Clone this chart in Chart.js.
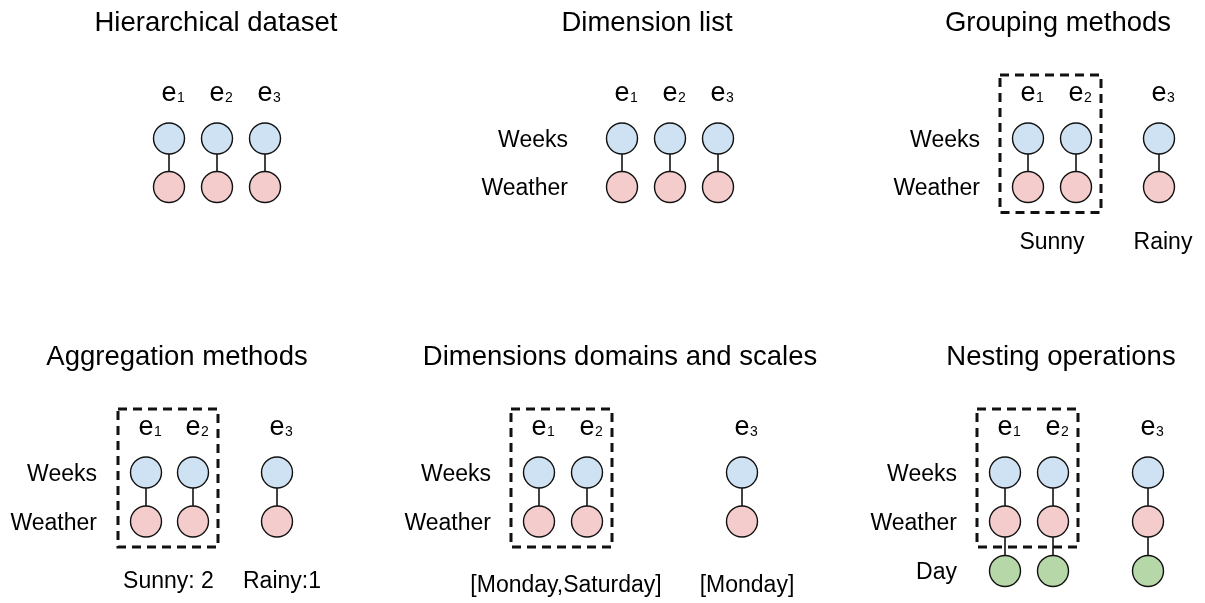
<!DOCTYPE html>
<html><head><meta charset="utf-8">
<script src="https://cdn.jsdelivr.net/npm/chart.js@4"></script>
<style>html,body{margin:0;padding:0;background:#fff}canvas{display:block}</style>
</head>
<body>
<canvas id="c" width="1205" height="603"></canvas>
<script>
// ---- data ----
const panelTitles = ['Hierarchical dataset','Dimension list','Grouping methods','Aggregation methods','Dimensions domains and scales','Nesting operations'];
const entityIds = [1, 2, 3];
const dimensionNames = ['Weeks', 'Weather', 'Day'];
const panelDepth = [2, 2, 2, 2, 2, 3];
const panelShowDims = [false, true, true, true, true, true];
const panelGroups = [null, null, [[1, 2], [3]], [[1, 2], [3]], [[1, 2], [3]], [[1, 2], [3]]];
const groupLabels = [null, null, ['Sunny', 'Rainy'], ['Sunny: 2', 'Rainy:1'], ['[Monday,Saturday]', '[Monday]'], null];
const levelColors = ['#cfe2f3', '#f4cccc', '#b6d7a8'];

// ---- layout (pixel-based coordinate system on the hidden linear scales) ----
const layout = [
  {titleX: 216, titleY: 31,  eY: 101, levelY: [138.5, 187],        nodeX: [169, 217, 265],   dimX: null, groupY: null},
  {titleX: 647, titleY: 31,  eY: 101, levelY: [138.5, 187],        nodeX: [622, 670, 718],   dimX: 568,  groupY: null},
  {titleX: 1058, titleY: 31, eY: 101, levelY: [138.5, 187],        nodeX: [1028, 1076, 1159], dimX: 980, groupY: 249, groupDX: [0, 4]},
  {titleX: 177, titleY: 365, eY: 435, levelY: [472.5, 521.5],      nodeX: [146, 193, 277],   dimX: 97,   groupY: 588, groupDX: [-1, 5]},
  {titleX: 620, titleY: 365, eY: 435, levelY: [472.5, 521.5],      nodeX: [539, 587, 742],   dimX: 491,  groupY: 592, groupDX: [3, 5]},
  {titleX: 1061, titleY: 365, eY: 435, levelY: [472.5, 521.5, 571], nodeX: [1005, 1053, 1148], dimX: 957, groupY: null}
];

const FONT = '"Liberation Sans", Arial, sans-serif';
const W = 1205, H = 603;

// ---- build datasets ----
const nodeData = [[], [], []];
const linkData = [];
panelTitles.forEach((t, p) => {
  const L = layout[p];
  entityIds.forEach((id, i) => {
    for (let d = 0; d < panelDepth[p]; d++) {
      nodeData[d].push({x: L.nodeX[i], y: L.levelY[d]});
      if (d > 0) {
        linkData.push({x: L.nodeX[i], y: L.levelY[d - 1]});
        linkData.push({x: L.nodeX[i], y: L.levelY[d]});
        linkData.push({x: L.nodeX[i], y: null});
      }
    }
  });
});

const boxDatasets = [];
panelGroups.forEach((groups, p) => {
  if (!groups) return;
  const L = layout[p];
  groups.forEach(g => {
    if (g.length < 2) return;
    const xs = g.map(id => L.nodeX[entityIds.indexOf(id)]);
    const l = Math.min(...xs) - 28, r = Math.max(...xs) + 25;
    const t = L.levelY[0] - 63.5, b = L.levelY[1] + 25.5;
    boxDatasets.push({
      data: [{x: l, y: t}, {x: r, y: t}, {x: r, y: b}, {x: l, y: b}, {x: l, y: t}],
      showLine: true, pointRadius: 0, borderColor: '#111', borderWidth: 3,
      borderDash: [9, 6], fill: false, tension: 0
    });
  });
});

const nodeDatasets = nodeData.map((d, i) => ({
  data: d, pointRadius: 15.5, pointHoverRadius: 15.5, pointStyle: 'circle',
  backgroundColor: levelColors[i], borderColor: '#111', borderWidth: 1.4, showLine: false
}));

const linkDataset = {
  data: linkData, showLine: true, spanGaps: false, pointRadius: 0,
  borderColor: '#222', borderWidth: 1.7, fill: false, tension: 0
};

// ---- text plugin ----
const textPlugin = {
  id: 'texts',
  afterDatasetsDraw(chart) {
    const ctx = chart.ctx, sx = chart.scales.x, sy = chart.scales.y;
    ctx.save();
    ctx.fillStyle = '#000';
    ctx.textBaseline = 'alphabetic';
    panelTitles.forEach((title, p) => {
      const L = layout[p];
      ctx.font = '27.5px ' + FONT;
      ctx.textAlign = 'center';
      ctx.fillText(title, sx.getPixelForValue(L.titleX), sy.getPixelForValue(L.titleY));
      entityIds.forEach((id, i) => {
        const x = sx.getPixelForValue(L.nodeX[i]), y = sy.getPixelForValue(L.eY);
        ctx.font = '27px ' + FONT;
        ctx.textAlign = 'center';
        ctx.fillText('e', x, y);
        const w = ctx.measureText('e').width;
        ctx.font = '14px ' + FONT;
        ctx.textAlign = 'left';
        ctx.fillText(String(id), x + w / 2 + 0.5, y + 1);
      });
      if (panelShowDims[p]) {
        ctx.font = '23px ' + FONT;
        ctx.textAlign = 'right';
        for (let d = 0; d < panelDepth[p]; d++) {
          ctx.fillText(dimensionNames[d], sx.getPixelForValue(L.dimX), sy.getPixelForValue(L.levelY[d] + 8));
        }
      }
      if (groupLabels[p]) {
        ctx.font = '23px ' + FONT;
        ctx.textAlign = 'center';
        panelGroups[p].forEach((g, gi) => {
          const xs = g.map(id => L.nodeX[entityIds.indexOf(id)]);
          const cx = (Math.min(...xs) + Math.max(...xs)) / 2 + L.groupDX[gi];
          ctx.fillText(groupLabels[p][gi], sx.getPixelForValue(cx), sy.getPixelForValue(L.groupY));
        });
      }
    });
    ctx.restore();
  }
};

const chart = new Chart(document.getElementById('c'), {
  type: 'scatter',
  data: { datasets: [...nodeDatasets, ...boxDatasets, linkDataset] },
  options: {
    responsive: false, animation: false, devicePixelRatio: 1,
    layout: { padding: 0, autoPadding: false },
    plugins: { legend: { display: false }, tooltip: { enabled: false } },
    events: [],
    scales: {
      x: { type: 'linear', min: 0, max: W, display: false },
      y: { type: 'linear', min: 0, max: H, reverse: true, display: false }
    }
  },
  plugins: [textPlugin]
});

// make the hidden scales map value -> identical pixel, whatever the chart area is
const ca = chart.chartArea;
if (Math.abs(ca.left) > 0.01 || Math.abs(ca.top) > 0.01 || Math.abs(ca.right - W) > 0.01 || Math.abs(ca.bottom - H) > 0.01) {
  chart.options.scales.x.min = ca.left;
  chart.options.scales.x.max = ca.right;
  chart.options.scales.y.min = ca.top;
  chart.options.scales.y.max = ca.bottom;
  chart.update();
}
</script>
</body></html>
